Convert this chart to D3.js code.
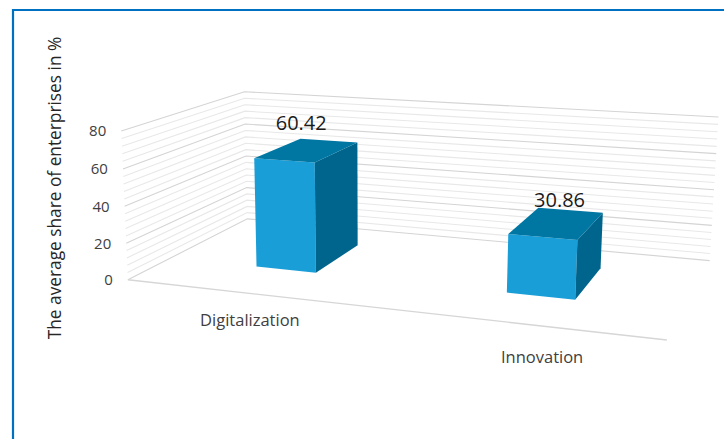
<!DOCTYPE html>
<html><head><meta charset="utf-8">
<script src="https://cdn.jsdelivr.net/npm/d3@7"></script>
<style>body{margin:0;background:#fff}svg{display:block}</style></head>
<body><svg id="c" width="724" height="439"></svg>
<script>
const categories = ["Digitalization", "Innovation"];
const values = [60.42, 30.86];
const yTicks = [0, 20, 40, 60, 80];
const yMax = 80;
const minorStep = 4;
const axisTitle = "The average share of enterprises in %";

const svg = d3.select("#c");
// world scales (category axis 0..2, depth 0..1, height 0..1)
const xBand = d3.scaleBand().domain(categories).range([0, 2]).paddingInner(0.75).paddingOuter(0.375);
const yW = d3.scaleLinear().domain([0, yMax]).range([0, 1]);
const zFront = 0.325, zBack = 0.75;

// camera calibration: world box corners -> screen
const calib = [
  [0,0,0,129,277],[0,1,0,120,132],[0,0,1,246,222],[0,1,1,246,90],
  [2,1,1,718,118],[2,0,1,710,258],[2,0,0,667,342]
];
function fitCamera(pairs){
  const A=[],b=[];
  pairs.forEach(([X,Y,Z,u,v])=>{
    A.push([X,Y,Z,1,0,0,0,0,-u*X,-u*Y,-u*Z]); b.push(u);
    A.push([0,0,0,0,X,Y,Z,1,-v*X,-v*Y,-v*Z]); b.push(v);
  });
  const n=11, N=[...Array(n)].map(()=>Array(n+1).fill(0));
  for(let r=0;r<A.length;r++) for(let i=0;i<n;i++){ for(let j=0;j<n;j++) N[i][j]+=A[r][i]*A[r][j]; N[i][n]+=A[r][i]*b[r]; }
  for(let i=0;i<n;i++){ let p=i; for(let k=i+1;k<n;k++) if(Math.abs(N[k][i])>Math.abs(N[p][i])) p=k; [N[i],N[p]]=[N[p],N[i]];
    for(let k=0;k<n;k++) if(k!==i){ const f=N[k][i]/N[i][i]; for(let j=i;j<=n;j++) N[k][j]-=f*N[i][j]; } }
  return N.map((row,i)=>row[n]/row[i]);
}
const M = fitCamera(calib);
function P(X,Y,Z){ const w=M[8]*X+M[9]*Y+M[10]*Z+1; return [(M[0]*X+M[1]*Y+M[2]*Z+M[3])/w,(M[4]*X+M[5]*Y+M[6]*Z+M[7])/w]; }
const line = d3.line();

// frame
svg.append("path").attr("d","M13,439V10H724").attr("fill","none").attr("stroke","#0070C0").attr("stroke-width",2.2);

// gridlines
const gridVals = d3.range(0, yMax + 0.001, minorStep);
const g = svg.append("g").attr("fill","none");
gridVals.forEach(v=>{
  const major = v % 20 === 0;
  const y = yW(v);
  g.append("path").attr("d", line([P(0,y,0),P(0,y,1),P(2,y,1)]))
    .attr("stroke", major ? "#d4d4d4" : "#e8e8e8").attr("stroke-width", 1.1);
});
// floor front edge
g.append("path").attr("d", line([P(0,0,0),P(2,0,0)])).attr("stroke","#d6d6d6").attr("stroke-width",1.3);

// tick labels
svg.append("g").selectAll("text").data(yTicks).join("text")
  .attr("x", d=>P(0,yW(d),0)[0]-15).attr("y", d=>P(0,yW(d),0)[1])
  .attr("dy","0.35em").attr("text-anchor","end")
  .attr("font-family","Open Sans").attr("font-size",15).attr("fill","#404040").text(d=>d);

// axis title
svg.append("text").attr("transform","translate(61,188) rotate(-90)")
  .attr("text-anchor","middle").attr("font-family","Open Sans").attr("font-size",17.3).attr("fill","#262626").text(axisTitle);

// bars
const bars = svg.append("g");
categories.forEach((c,i)=>{
  const x0=xBand(c), x1=x0+xBand.bandwidth(), h=yW(values[i]);
  const front=[P(x0,0,zFront),P(x1,0,zFront),P(x1,h,zFront),P(x0,h,zFront)];
  const side=[P(x1,0,zFront),P(x1,0,zBack),P(x1,h,zBack),P(x1,h,zFront)];
  const top=[P(x0,h,zFront),P(x1,h,zFront),P(x1,h,zBack),P(x0,h,zBack)];
  bars.append("path").attr("d",line(front)+"Z").attr("fill","#1a9ed8");
  bars.append("path").attr("d",line(side)+"Z").attr("fill","#00658c");
  bars.append("path").attr("d",line(top)+"Z").attr("fill","#0076a3");
  const lc=P((x0+x1)/2,h,zFront);
  svg.append("text").attr("x",lc[0]+17).attr("y",lc[1]-37).attr("dy","0.35em").attr("text-anchor","middle")
    .attr("font-family","Open Sans").attr("font-size",20).attr("fill","#1a1a1a").text(values[i].toFixed(2));
  const cc=P((x0+x1)/2,0,-0.5);
  svg.append("text").attr("x",cc[0]+70).attr("y",cc[1]-15).attr("dy","0.35em").attr("text-anchor","middle")
    .attr("font-family","Open Sans").attr("font-size",16.5).attr("fill","#404040").text(c);
});
</script></body></html>
